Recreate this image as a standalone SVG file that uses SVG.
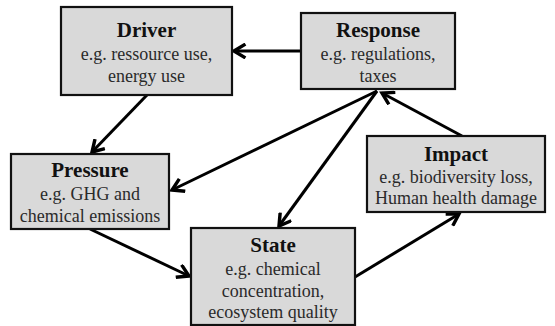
<svg xmlns="http://www.w3.org/2000/svg" width="555" height="326" viewBox="0 0 555 326">
<defs>
<marker id="ah" markerUnits="userSpaceOnUse" markerWidth="16" markerHeight="16" refX="11" refY="7" orient="auto" viewBox="0 0 14 14">
<path d="M1,1 L11,7 L1,13" fill="none" stroke="#000" stroke-width="3" stroke-linejoin="miter"/>
</marker>
<style>
.box{fill:#d9d9d9;stroke:#111;stroke-width:2.2}
text{font-family:'Liberation Serif','Times New Roman','DejaVu Serif',serif;text-anchor:middle}
.t{font-weight:bold;font-size:21px;fill:#111}
.s{font-size:18px;fill:#2a2a2a}
.c{fill:none;stroke:#000;stroke-width:3;marker-end:url(#ah)}
</style>
</defs>
<g id="connectors">
<line class="c" x1="301" y1="51" x2="234" y2="51"/>
<line class="c" x1="147" y1="95" x2="92" y2="152"/>
<line class="c" x1="377" y1="91" x2="172" y2="190"/>
<line class="c" x1="377" y1="91" x2="279" y2="226"/>
<line class="c" x1="462" y1="136" x2="382" y2="93"/>
<line class="c" x1="90" y1="229" x2="189" y2="276"/>
<line class="c" x1="355" y1="277" x2="459" y2="214"/>
</g>
<g id="driver">
<rect class="box" x="61" y="7" width="171" height="88"/>
<text class="t" x="146.5" y="37">Driver</text>
<text class="s" x="146.5" y="60">e.g. ressource use,</text>
<text class="s" x="146.5" y="82">energy use</text>
</g>
<g id="response">
<rect class="box" x="301" y="13" width="154" height="76"/>
<text class="t" x="378" y="37">Response</text>
<text class="s" x="378" y="60">e.g. regulations,</text>
<text class="s" x="378" y="82">taxes</text>
</g>
<g id="pressure">
<rect class="box" x="11" y="154" width="158" height="75"/>
<text class="t" x="90" y="177">Pressure</text>
<text class="s" x="90" y="200">e.g. GHG and</text>
<text class="s" x="90" y="222">chemical emissions</text>
</g>
<g id="state">
<rect class="box" x="191" y="228" width="164" height="97"/>
<text class="t" x="273" y="252">State</text>
<text class="s" x="273" y="275">e.g. chemical</text>
<text class="s" x="273" y="297">concentration,</text>
<text class="s" x="273" y="318">ecosystem quality</text>
</g>
<g id="impact">
<rect class="box" x="367" y="136" width="178" height="76"/>
<text class="t" x="456" y="161">Impact</text>
<text class="s" x="456" y="183">e.g. biodiversity loss,</text>
<text class="s" x="456" y="204">Human health damage</text>
</g>
</svg>
